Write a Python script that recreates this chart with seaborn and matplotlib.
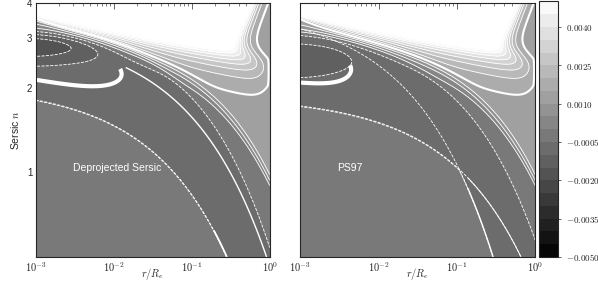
import numpy as np
import matplotlib
matplotlib.use("Agg")
import matplotlib.pyplot as plt
import seaborn as sns

sns.set_style("ticks")
plt.rcParams["font.family"] = ["Liberation Sans", "DejaVu Sans"]
plt.rcParams["mathtext.fontset"] = "cm"
plt.rcParams["contour.negative_linestyle"] = "dashed"

# filled levels and colourbar
levels = np.round(np.arange(-0.005, 0.00501, 0.0005), 5)
cbar_ticks = [-0.005, -0.0035, -0.002, -0.0005, 0.001, 0.0025, 0.004]
cbar_labels = [r"$-0.0050$", r"$-0.0035$", r"$-0.0020$", r"$-0.0005$",
               r"$0.0010$", r"$0.0025$", r"$0.0040$"]
xticks = [1e-3, 1e-2, 1e-1, 1e0]
xticklabels = [r"$10^{-3}$", r"$10^{-2}$", r"$10^{-1}$", r"$10^{0}$"]
yticks = [1, 2, 3, 4]
yticklabels = ["1", "2", "3", "4"]
panel_names = ["Deprojected Sersic", "PS97"]

# curves of constant log n + k*r  (k, c), one per panel
inner_edge = [(1.06, 0.311), (0.686, 0.271)]   # lower edge of the darker band
solid_edge = [(0.84, 0.506), (1.52, 0.587)]    # solid white curve
outer_edge = [(0.85, 0.58), (0.79, 0.546)]     # upper edge of the darker band
shelf_edge = [(0.56, 0.53), (0.56, 0.53)]      # where the map climbs onto the shelf
shelf_value = 0.0015
solid_start = [-1.85, -0.86]                   # log r where the solid curve turns solid
dashed_before = [False, True]                  # solid curve dashed before that point
inner_solid_from = [-0.72, -0.86]              # log r where the lower edge turns solid
inner_solid_lw = [1.3, 0.7]
# dark pocket at small r: centre log r, centre log n, widths, depth
pocket = [(-3.1, 0.45, 0.93, 0.055, -0.0011), (-3.1, 0.40, 0.75, 0.06, -0.0006)]
# white tongue near n~2: centre log r, centre log n, half length, half height, tilt
tongue = [(-3.2, 0.40, 1.3, 0.07, -0.045), (-3.2, 0.38, 0.85, 0.06, -0.02)]


def sig(z):
    return 0.5 * (1 + np.tanh(z / 2))


lu = np.linspace(-3, 0, 800)
ly = np.linspace(np.log10(0.5), np.log10(4), 550)
U, Y = np.meshgrid(lu, ly)
X, N = 10 ** U, 10 ** Y
EU = np.exp(U)


def panel_field(i):
    k1, c1 = inner_edge[i]
    ks, cs = solid_edge[i]
    k2, c2 = outer_edge[i]
    k3, c3 = shelf_edge[i]
    dark = np.maximum(sig((Y + k1 * EU - c1) / 0.006), sig((Y + ks * EU - cs) / 0.006))
    dark = dark * (1 - sig((Y + k2 * EU - c2) / 0.006))
    base = -0.0003 - 0.0005 * dark
    shelf = shelf_value * sig((Y + k3 * EU - c3) / 0.012)

    # steep rise towards the blank top region
    y_white = np.log10(2.71 - 0.1167 * U + 0.0667 * U ** 2)
    y_thick = 0.265 + 0.0615 * (-U) ** 1.38
    rise = 0.005 * np.exp(np.clip(2.8 * (Y - y_white) / (y_white - y_thick), -60, 8))
    u_turn = -0.02 - 0.45 * sig((N - 2.6) / 0.15)
    c = sig((U - u_turn) / 0.08)
    c_edge = sig((U + 0.012) / 0.003) * sig((Y - np.log10(1.84)) / 0.005) * sig((np.log10(2.95) - Y) / 0.005)
    c = 1 - (1 - c) * (1 - c_edge)
    rise = rise * (1 - c)

    pu, py, su, sy, depth = pocket[i]
    blob = depth * np.exp(-((U - pu) / su) ** 2 - ((Y - py) / sy) ** 2)
    return base + shelf + rise + blob


fig = plt.figure(figsize=(5.98, 2.83), dpi=100)
axes = [fig.add_axes([0.060, 0.092, 0.391, 0.896]),
        fig.add_axes([0.502, 0.092, 0.393, 0.896])]
cax = fig.add_axes([0.902, 0.092, 0.031, 0.903])

for i, ax in enumerate(axes):
    F = panel_field(i)
    cf = ax.contourf(X, N, F, levels=levels, cmap="gray", vmin=-0.005, vmax=0.005)
    lw = [1.5 if abs(l - 0.0015) < 1e-9 else 0.6 for l in levels]
    ax.contour(X, N, F, levels=levels, colors="w", linewidths=lw)

    # extra solid and dashed white curves
    ks, cs = solid_edge[i]
    PS = Y + ks * EU
    ax.contour(X, N, np.where(U > solid_start[i], PS, np.nan), levels=[cs],
               colors="w", linewidths=1.0, linestyles="solid")
    if dashed_before[i]:
        ax.contour(X, N, np.where(U <= solid_start[i] + 0.01, PS, np.nan), levels=[cs],
                   colors="w", linewidths=0.6, linestyles="dashed")
    k1, c1 = inner_edge[i]
    QS = Y + k1 * EU
    ax.contour(X, N, QS, levels=[c1], colors="w", linewidths=0.6, linestyles="dashed")
    ax.contour(X, N, np.where(U > inner_solid_from[i], QS, np.nan), levels=[c1],
               colors="w", linewidths=inner_solid_lw[i], linestyles="solid")

    # the white tongue
    tu, ty, ta, tb, tilt = tongue[i]
    yp = Y - tilt * (U + 3)
    H = ((U - tu) / ta) ** 4 + ((yp - ty) / tb) ** 2
    H = np.where(yp < ty + 0.25 * tb, H, np.nan)
    ax.contour(X, N, H, levels=[1.0], colors="w", linewidths=3.0)

    ax.set_xscale("log")
    ax.set_yscale("log")
    ax.set_xlim(1e-3, 1)
    ax.set_ylim(0.5, 4)
    ax.set_xticks(xticks)
    ax.set_xticklabels(xticklabels, fontsize=7.5)
    ax.set_yticks(yticks)
    ax.set_yticks([0.5, 0.6, 0.7, 0.8, 0.9], minor=True)
    ax.set_yticklabels(yticklabels if i == 0 else [], fontsize=7)
    ax.yaxis.set_minor_formatter(matplotlib.ticker.NullFormatter())
    ax.tick_params(which="both", direction="in", top=True, right=True, color="0.3", pad=2.5)
    ax.tick_params(which="major", length=4, width=0.6)
    ax.tick_params(which="minor", length=2, width=0.5)
    for sp in ax.spines.values():
        sp.set_linewidth(0.8)
    ax.set_xlabel(r"$r/R_e$", fontsize=7.5)
    ax.xaxis.set_label_coords(0.5, -0.035)
    ax.text(3e-3, 1.04, panel_names[i], color="w", fontsize=7.5, ha="left", va="center")

axes[0].set_ylabel(r"Sersic $n$", fontsize=7.5, labelpad=4)

cb = fig.colorbar(cf, cax=cax, ticks=cbar_ticks)
cb.ax.set_yticklabels(cbar_labels, fontsize=6.5)
cb.ax.tick_params(length=2, width=0.5)
cb.outline.set_linewidth(0.8)

fig.savefig("out.png", dpi=100)
